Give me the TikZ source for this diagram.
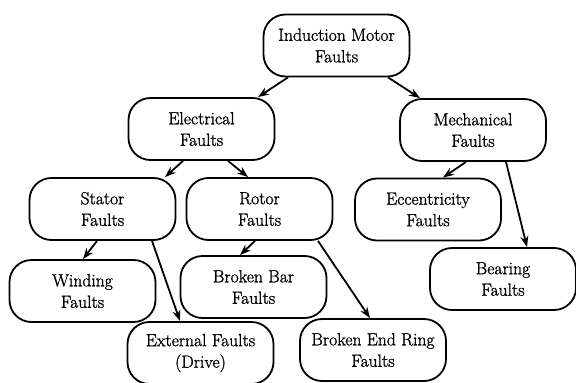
\documentclass[tikz,border=0pt]{standalone}
\usepackage{fontspec}
\setmainfont{Latin Modern Roman}[FakeBold=1.2]
\usetikzlibrary{arrows.meta}

\begin{document}
\begin{tikzpicture}[x=1pt,y=-1pt,>={Stealth[length=11pt,width=8pt]},
    fault/.style={draw,line width=1.8pt,rounded corners=22pt,align=center,
      minimum width=146pt,minimum height=62pt,inner sep=0pt,
      font=\fontsize{17.6}{21.5}\selectfont},
    link/.style={->,line width=1.8pt}]
    \useasboundingbox (0,0) rectangle (576,383);
    \node[fault] (imf) at (336.5,45.5) {Induction Motor\\Faults};
    \node[fault] (elec) at (201.5,129) {Electrical\\Faults};
    \node[fault] (mech) at (473,130) {Mechanical\\Faults};
    \node[fault] (stator) at (102.5,209) {Stator\\Faults};
    \node[fault] (rotor) at (259.5,209) {Rotor\\Faults};
    \node[fault] (ecc) at (428,209.5) {Eccentricity\\Faults};
    \node[fault] (wind) at (82.5,291) {Winding\\Faults};
    \node[fault] (bbar) at (253.5,287) {Broken Bar\\Faults};
    \node[fault] (bear) at (503,279) {Bearing\\Faults};
    \node[fault] (ext) at (200.5,353) {External Faults\\(Drive)};
    \node[fault] (ring) at (373,350) {Broken End Ring\\Faults};

    \draw[link] ([xshift=-48.5pt]imf.south) -- ([xshift=56.5pt]elec.north);
    \draw[link] ([xshift=51.5pt]imf.south) -- ([xshift=-53pt]mech.north);
    \draw[link] ([xshift=-18.5pt]elec.south) -- ([xshift=62.5pt]stator.north);
    \draw[link] ([xshift=26.5pt]elec.south) -- ([xshift=-11.5pt]rotor.north);
    \draw[link] ([xshift=-7pt]mech.south) -- ([xshift=15pt]ecc.north);
    \draw[link] ([xshift=33pt]mech.south) -- ([xshift=24pt]bear.north);
    \draw[link] ([xshift=-5.5pt]stator.south) -- ([xshift=0.5pt]wind.north);
    \draw[link] ([xshift=49.5pt]stator.south) -- ([xshift=-20.5pt]ext.north);
    \draw[link] ([xshift=-4.5pt]rotor.south) -- ([xshift=-13.5pt]bbar.north);
    \draw[link] ([xshift=58.5pt]rotor.south) -- ([xshift=-3pt]ring.north);
\end{tikzpicture}
\end{document}
